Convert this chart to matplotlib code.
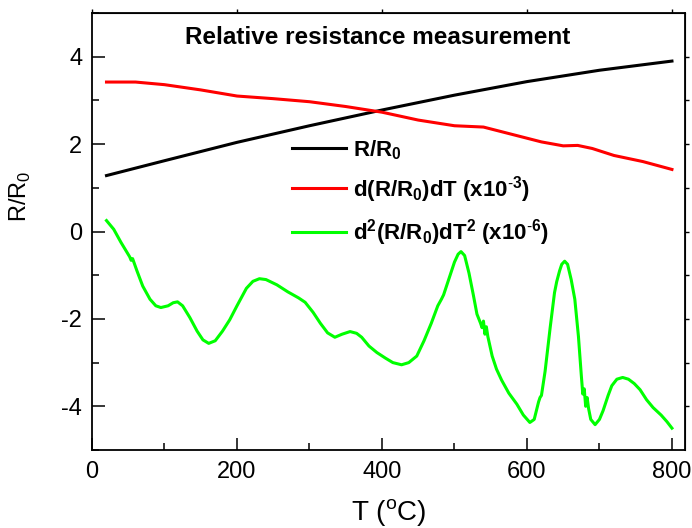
import matplotlib
matplotlib.use("Agg")
import matplotlib.pyplot as plt

# Temperature (deg C) and values
t_r = [20, 100, 200, 300, 400, 500, 600, 700, 800]
r_ratio = [1.28, 1.62, 2.04, 2.42, 2.78, 3.12, 3.43, 3.69, 3.90]

t_d1 = [20, 60, 100, 150, 200, 250, 300, 350, 400, 450, 500, 540, 580,
        620, 650, 670, 690, 720, 760, 800]
d1 = [3.42, 3.42, 3.36, 3.24, 3.10, 3.04, 2.97, 2.86, 2.73, 2.55, 2.42,
      2.39, 2.22, 2.05, 1.96, 1.97, 1.90, 1.74, 1.60, 1.42]

t_d2 = [20, 30, 40, 48, 52, 54, 56, 62, 70, 80, 88, 95, 105, 112, 118,
        125, 135, 145, 153, 161, 170, 180, 190, 200, 213, 222, 231, 240,
        255, 270, 285, 294, 305, 315, 325, 335, 345, 356, 365, 372, 382,
        393, 405, 415, 427, 437, 448, 458, 468, 477, 482, 485, 492, 500,
        505, 509, 514, 520, 526, 531, 536, 538, 540, 542, 544, 546, 552,
        558, 565, 575, 586, 595, 604, 610, 616, 618, 620, 625, 632, 638,
        641, 645, 648, 652, 656, 661, 666, 671, 675, 677, 679, 681, 683,
        685, 688, 694, 700, 705, 708, 712, 717, 724, 732, 740, 748, 756,
        765, 774, 785, 793, 800]
d2 = [0.25, 0.05, -0.25, -0.47, -0.58, -0.66, -0.62, -0.90, -1.25, -1.55,
      -1.70, -1.74, -1.70, -1.63, -1.61, -1.70, -1.97, -2.28, -2.48, -2.56,
      -2.50, -2.28, -2.02, -1.70, -1.30, -1.14, -1.08, -1.10, -1.22, -1.38,
      -1.52, -1.62, -1.85, -2.10, -2.32, -2.42, -2.35, -2.29, -2.33, -2.42,
      -2.62, -2.77, -2.90, -3.00, -3.05, -3.00, -2.85, -2.50, -2.10, -1.70,
      -1.55, -1.45, -1.10, -0.70, -0.52, -0.46, -0.55, -0.95, -1.45, -1.89,
      -2.10, -2.20, -2.05, -2.35, -2.18, -2.40, -2.85, -3.15, -3.40, -3.70,
      -3.95, -4.20, -4.37, -4.30, -3.90, -3.80, -3.75, -3.20, -2.20, -1.40,
      -1.15, -0.90, -0.75, -0.68, -0.75, -1.10, -1.55, -2.40, -3.30, -3.72,
      -3.60, -4.00, -3.80, -4.05, -4.30, -4.42, -4.30, -4.10, -3.95, -3.75,
      -3.53, -3.38, -3.34, -3.38, -3.48, -3.62, -3.85, -4.03, -4.20, -4.35,
      -4.50]

plt.rcParams['font.family'] = ['Liberation Sans', 'DejaVu Sans']
plt.rcParams['mathtext.fontset'] = 'custom'
plt.rcParams['mathtext.rm'] = 'Liberation Sans'
plt.rcParams['mathtext.bf'] = 'Liberation Sans:bold'
plt.rcParams['axes.unicode_minus'] = False

fig = plt.figure(figsize=(6.92, 5.28), dpi=100)
ax = fig.add_axes([92 / 692, 1 - 450 / 528, 593 / 692, 437 / 528])

ax.plot(t_r, r_ratio, color='black', lw=2.2, label=r'R/R$_\mathbf{0}$')
ax.plot(t_d1, d1, color='#ff0000', lw=2.2,
        label=r'd(R/R$_\mathbf{0}$)dT (x10$^\mathbf{\text{-}3}$)')
ax.plot(t_d2, d2, color='#00ff00', lw=2.2,
        label=r'd$^\mathbf{2}$(R/R$_\mathbf{0}$)dT$^\mathbf{2}$ (x10$^\mathbf{\text{-}6}$)')

ax.set_xlim(0, 818)
ax.set_ylim(-5, 5)
ax.set_xticks([0, 200, 400, 600, 800])
ax.set_xticks([100, 300, 500, 700], minor=True)
ax.set_yticks([-4, -2, 0, 2, 4])
ax.set_yticks([-5, -3, -1, 1, 3, 5], minor=True)
ax.tick_params(which='both', direction='in', labelsize=17, width=1.1)
ax.tick_params(which='major', length=9)
ax.tick_params(which='minor', length=5)
ax.tick_params(axis='x', pad=8)
ax.tick_params(axis='y', pad=7)
for s in ax.spines.values():
    s.set_linewidth(1.3)

# small outward ticks on top and right
ax2 = ax.secondary_xaxis('top')
ax2.set_xticks([0, 200, 400, 600, 800], labels=[])
ax2.tick_params(direction='out', length=3, width=1.0)
ax3 = ax.secondary_yaxis('right')
ax3.set_yticks([-4, -3, -2, -1, 0, 1, 2, 3, 4], labels=[])
ax3.tick_params(direction='out', length=3, width=1.0)

ax.set_xlabel(r'T ($^\mathrm{o}$C)', fontsize=20)
ax.set_ylabel(r'R/R$_\mathrm{0}$', fontsize=17)
ax.xaxis.set_label_coords(0.5, -0.108)
ax.yaxis.set_label_coords(-0.1, 0.58)

ax.text(0.481, 0.945, 'Relative resistance measurement', transform=ax.transAxes,
        ha='center', va='center', fontsize=17.5, fontweight='bold')

leg = ax.legend(loc='upper left', bbox_to_anchor=(292 / 692, 1 - 138 / 528),
                bbox_transform=fig.transFigure, frameon=False,
                prop={'size': 16, 'weight': 'bold'}, handlelength=2.45,
                handletextpad=0.3, labelspacing=0.55, borderpad=0,
                borderaxespad=0)

fig.savefig('out.png', dpi=100)
